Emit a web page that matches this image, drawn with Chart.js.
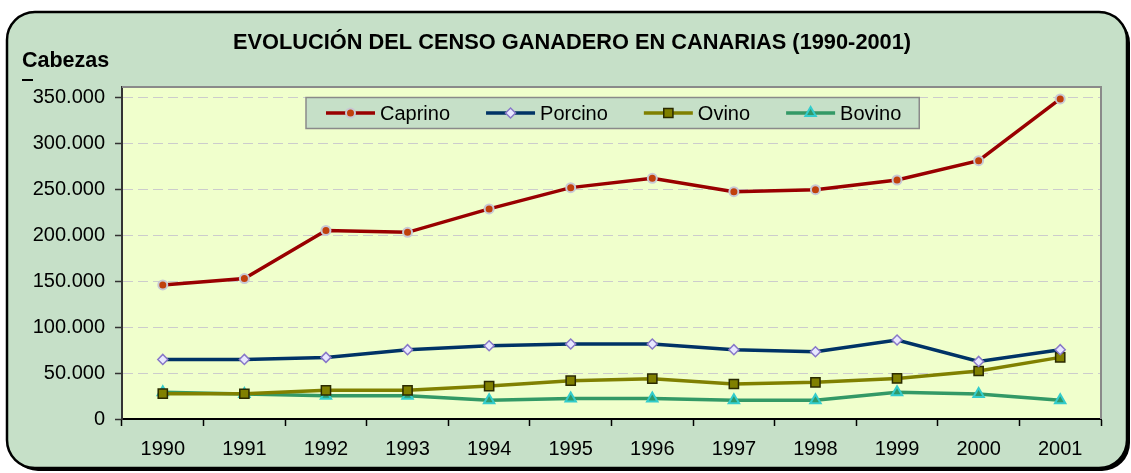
<!DOCTYPE html>
<html>
<head>
<meta charset="utf-8">
<script src="https://cdn.jsdelivr.net/npm/chart.js@4.4.0/dist/chart.umd.min.js"></script>
<style>
  html, body { margin: 0; padding: 0; background: #fff; }
  #censo { display: block; }
</style>
</head>
<body>
<canvas id="censo" width="1131" height="473"></canvas>
<script>
// values (head count per year)
const years = ['1990', '1991', '1992', '1993', '1994', '1995', '1996', '1997', '1998', '1999', '2000', '2001'];
const caprino = [146000, 153000, 205400, 203300, 228800, 252000, 262100, 247600, 249800, 260300, 281400, 348600];
const porcino = [64900, 64900, 67100, 75500, 79800, 81700, 81700, 75500, 73300, 86000, 62700, 75500];
const ovino = [27600, 27500, 31200, 31200, 35900, 41700, 43900, 38100, 39900, 44200, 52300, 67100];
const bovino = [29000, 27200, 25400, 25400, 20300, 22400, 22400, 20300, 20300, 29000, 27200, 20300];
const yTicks = [0, 50000, 100000, 150000, 200000, 250000, 300000, 350000];

const FONT = '"Liberation Sans", Arial, sans-serif';
const titleText = 'EVOLUCIÓN DEL CENSO GANADERO EN CANARIAS (1990-2001)';

function fmt(v) {
    return String(v).replace(/\B(?=(\d{3})+(?!\d))/g, '.');
}

// panel, plot background, title, legend
const decor = {
    id: 'decor',
    beforeDraw(chart) {
        const { ctx, chartArea: a } = chart;
        ctx.save();
        // drop shadow, then the rounded panel
        ctx.beginPath();
        ctx.roundRect(10, 15, 1120, 456, 28);
        ctx.fillStyle = '#000';
        ctx.fill();
        ctx.beginPath();
        ctx.roundRect(7, 12, 1120, 456, 28);
        ctx.fillStyle = '#c6e0c8';
        ctx.fill();
        ctx.lineWidth = 2.5;
        ctx.strokeStyle = '#000';
        ctx.stroke();
        ctx.fillStyle = '#f0ffcc';
        ctx.fillRect(a.left, a.top, a.right - a.left, a.bottom - a.top);
        ctx.restore();
    },
    afterDraw(chart) {
        const { ctx, chartArea: a } = chart;
        ctx.save();

        // top and right edges of the plot are grey
        ctx.strokeStyle = '#8a8a8a';
        ctx.lineWidth = 2;
        ctx.beginPath();
        ctx.moveTo(a.left, a.top);
        ctx.lineTo(a.right, a.top);
        ctx.lineTo(a.right, a.bottom);
        ctx.stroke();

        // title and axis caption
        ctx.fillStyle = '#000';
        ctx.textBaseline = 'alphabetic';
        ctx.font = 'bold 21.8px ' + FONT;
        ctx.textAlign = 'center';
        ctx.fillText(titleText, 572, 49);
        ctx.font = 'bold 21.5px ' + FONT;
        ctx.textAlign = 'left';
        ctx.fillText('Cabezas', 22, 67);
        ctx.fillRect(22, 79, 11, 2);

        // legend box
        ctx.font = '20px ' + FONT;
        const sets = chart.data.datasets;
        const lineLen = 49, gapText = 5, gapItem = 36, padL = 20, padR = 18;
        let w = padL + padR;
        sets.forEach((ds, i) => {
            w += lineLen + gapText + ctx.measureText(ds.label).width;
            if (i < sets.length - 1) w += gapItem;
        });
        const bx = 306, by = 97.5, bh = 31;
        ctx.fillStyle = '#c6e0c8';
        ctx.fillRect(bx, by, w, bh);
        ctx.strokeStyle = '#8a8a8a';
        ctx.lineWidth = 1.5;
        ctx.strokeRect(bx, by, w, bh);

        const cy = by + bh / 2;
        let x = bx + padL;
        sets.forEach(ds => {
            ctx.strokeStyle = ds.borderColor;
            ctx.lineWidth = ds.borderWidth;
            ctx.beginPath();
            ctx.moveTo(x, cy);
            ctx.lineTo(x + lineLen, cy);
            ctx.stroke();
            ctx.fillStyle = ds.pointBackgroundColor;
            ctx.strokeStyle = ds.pointBorderColor;
            ctx.lineWidth = ds.pointBorderWidth;
            Chart.helpers.drawPoint(ctx, {
                pointStyle: ds.pointStyle,
                radius: ds.pointRadius,
                borderWidth: ds.pointBorderWidth,
                rotation: 0
            }, x + lineLen / 2, cy);
            x += lineLen + gapText;
            ctx.fillStyle = '#000';
            ctx.textBaseline = 'middle';
            ctx.fillText(ds.label, x, cy + 1);
            x += ctx.measureText(ds.label).width + gapItem;
        });
        ctx.restore();
    }
};

function series(label, data, color, style, radius, fill, border, bw) {
    return {
        label: label,
        data: data,
        borderColor: color,
        borderWidth: 3.5,
        pointStyle: style,
        pointRadius: radius,
        pointBackgroundColor: fill,
        pointBorderColor: border,
        pointBorderWidth: bw,
        tension: 0
    };
}

new Chart(document.getElementById('censo').getContext('2d'), {
    type: 'line',
    data: {
        labels: years,
        datasets: [
            series('Caprino', caprino, '#990000', 'circle', 4.5, '#c0400c', '#c8c8d4', 2),
            series('Porcino', porcino, '#003366', 'rectRot', 5, '#e8e8ff', '#8878c8', 1.5),
            series('Ovino', ovino, '#808000', 'rect', 6.5, '#808000', '#2a2a00', 1.5),
            series('Bovino', bovino, '#339966', 'triangle', 6, '#2f9a6a', '#33cccc', 2)
        ]
    },
    options: {
        responsive: false,
        animation: false,
        layout: { padding: { left: 0, right: 30, top: 87, bottom: 0 } },
        plugins: {
            legend: { display: false },
            title: { display: false },
            tooltip: { enabled: false }
        },
        scales: {
            x: {
                offset: true,
                afterFit(scale) { scale.height = 54; },
                grid: {
                    offset: true,
                    drawOnChartArea: false,
                    tickLength: 7,
                    tickColor: '#000',
                    tickWidth: 1.5
                },
                border: { color: '#000', width: 2 },
                ticks: {
                    color: '#000',
                    padding: 11,
                    maxRotation: 0,
                    font: { family: FONT, size: 20 }
                }
            },
            y: {
                min: 0,
                max: 361600,
                afterFit(scale) { scale.width = 122; },
                afterBuildTicks(scale) {
                    scale.ticks = yTicks.map(v => ({ value: v }));
                },
                grid: {
                    color: '#cccccc',
                    lineWidth: 1,
                    tickLength: 7,
                    tickColor: '#333',
                    tickWidth: 1.5,
                    tickBorderDash: [],
                    borderDash: [10, 5]
                },
                border: { color: '#333', width: 2, dash: [10, 5] },
                ticks: {
                    color: '#000',
                    padding: 10,
                    font: { family: FONT, size: 20 },
                    callback: v => fmt(v)
                }
            }
        }
    },
    plugins: [decor]
});
</script>
</body>
</html>
